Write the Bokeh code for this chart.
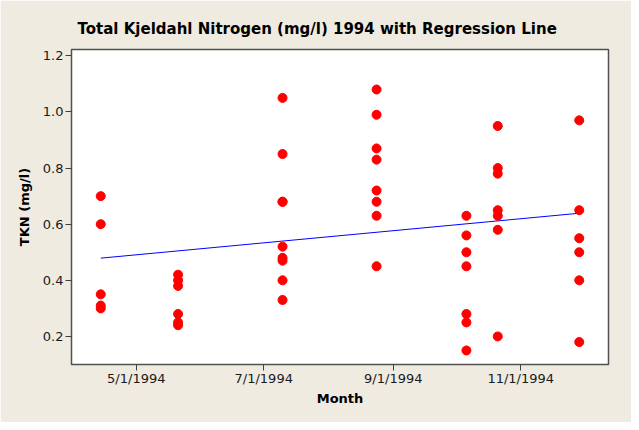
import pandas as pd
from bokeh.plotting import figure
from bokeh.models import Range1d, FixedTicker, ColumnDataSource
from bokeh.embed import file_html
from bokeh.resources import INLINE

# ---- data ----
sample_dates = ["1994-04-14"] * 5 + ["1994-05-21"] * 6 + ["1994-07-10"] * 9 + \
               ["1994-08-24"] * 8 + ["1994-10-06"] * 7 + ["1994-10-21"] * 7 + \
               ["1994-11-29"] * 6
tkn = [0.70, 0.60, 0.35, 0.31, 0.30,
       0.42, 0.40, 0.38, 0.28, 0.25, 0.24,
       1.05, 0.85, 0.68, 0.68, 0.52, 0.48, 0.47, 0.40, 0.33,
       1.08, 0.99, 0.87, 0.83, 0.72, 0.68, 0.63, 0.45,
       0.63, 0.56, 0.50, 0.45, 0.28, 0.25, 0.15,
       0.95, 0.80, 0.78, 0.65, 0.63, 0.58, 0.20,
       0.97, 0.65, 0.55, 0.50, 0.40, 0.18]
reg_dates = ["1994-04-14", "1994-11-29"]
reg_values = [0.479, 0.639]
tick_dates = ["1994-05-01", "1994-07-01", "1994-09-01", "1994-11-01"]
tick_labels = ["5/1/1994", "7/1/1994", "9/1/1994", "11/1/1994"]
y_ticks = [0.2, 0.4, 0.6, 0.8, 1.0, 1.2]
title_text = "Total Kjeldahl Nitrogen (mg/l) 1994 with Regression Line"


def to_ms(d):
    return float(pd.Timestamp(d).value // 10**6)


src = ColumnDataSource(dict(x=[to_ms(d) for d in sample_dates], y=tkn))
reg = ColumnDataSource(dict(x=[to_ms(d) for d in reg_dates], y=reg_values))

BG = "#EFEBE1"
FONT = "DejaVu Sans"

p = figure(width=631, height=422, output_backend="svg", toolbar_location=None,
           x_range=Range1d(to_ms("1994-03-31"), to_ms("1994-12-13")),
           y_range=Range1d(0.1, 1.2225),
           min_border_left=71, min_border_right=23,
           min_border_top=49, min_border_bottom=58)
p.background_fill_color = "white"
p.border_fill_color = BG
p.outline_line_color = "#505050"
p.outline_line_width = 1.5
p.grid.visible = False

p.title.text = title_text
p.title.align = "left"
p.title.offset = 6
p.title.standoff = 23
p.title.text_font = FONT
p.title.text_font_size = "15px"
p.title.text_font_style = "bold"
p.title.text_color = "black"

p.line("x", "y", source=reg, line_color="#0000FF", line_width=1)
p.scatter("x", "y", source=src, size=9, fill_color="#FF0000", line_color="#FF0000")

tick_ms = [to_ms(d) for d in tick_dates]
p.xaxis.ticker = FixedTicker(ticks=tick_ms)
p.xaxis.major_label_overrides = {t: l for t, l in zip(tick_ms, tick_labels)}
p.yaxis.ticker = FixedTicker(ticks=y_ticks)
p.yaxis.major_label_overrides = {t: f"{t:.1f}" for t in y_ticks}

for ax in (p.xaxis[0], p.yaxis[0]):
    ax.axis_line_color = "#505050"
    ax.major_tick_line_color = "#404040"
    ax.major_tick_out = 6
    ax.major_tick_in = 0
    ax.minor_tick_out = 0
    ax.minor_tick_in = 0
    ax.major_label_text_font = FONT
    ax.major_label_text_font_size = "13px"
    ax.major_label_text_color = "#1a1a1a"
    ax.axis_label_text_font = FONT
    ax.axis_label_text_font_size = "13px"
    ax.axis_label_text_font_style = "bold"
    ax.axis_label_text_color = "black"

p.xaxis.axis_label = "Month"
p.xaxis.major_label_standoff = 0
p.xaxis.axis_label_standoff = 2
p.yaxis.axis_label = "TKN (mg/l)"
p.yaxis.major_label_standoff = 2
p.yaxis.axis_label_standoff = 8

open("out.html", "w").write(file_html(p, INLINE))
